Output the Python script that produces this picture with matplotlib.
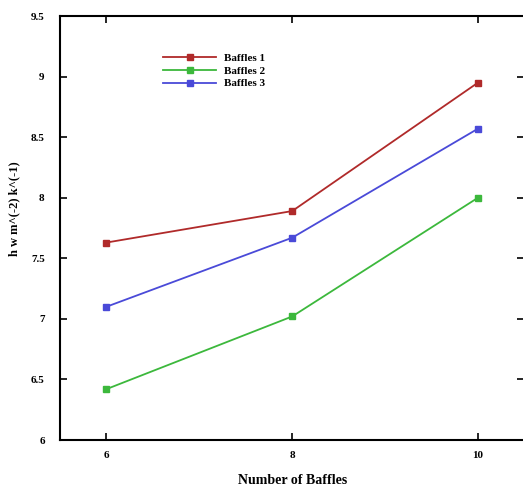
import matplotlib.pyplot as plt

# 데이터
baffles = [6, 8, 10]
b1 = [7.63, 7.89, 8.95]
b2 = [6.42, 7.02, 8.00]
b3 = [7.10, 7.67, 8.57]
yticks = [6, 6.5, 7, 7.5, 8, 8.5, 9, 9.5]
ytick_labels = ['6', '6.5', '7', '7.5', '8', '8.5', '9', '9.5']

plt.rcParams['font.family'] = ['Liberation Serif', 'DejaVu Serif']
plt.rcParams['font.weight'] = 'bold'

fig = plt.figure(figsize=(5.23, 4.87), dpi=100)
ax = fig.add_axes([0.1147, 0.0965, 0.888, 0.8706])

ax.plot(baffles, b1, color='#b02a2a', marker='s', markersize=4, lw=1.3, label='Baffles 1')
ax.plot(baffles, b2, color='#3cb83c', marker='s', markersize=4, lw=1.3, label='Baffles 2')
ax.plot(baffles, b3, color='#4a4ad8', marker='s', markersize=4, lw=1.3, label='Baffles 3')

ax.set_xlim(5.5, 10.5)
ax.set_ylim(6, 9.5)
ax.set_xticks(baffles)
ax.set_yticks(yticks)
ax.set_yticklabels(ytick_labels)
ax.tick_params(direction='in', top=True, right=True, length=5, width=1.2, labelsize=8)
ax.tick_params(axis='x', pad=8)
ax.tick_params(axis='y', pad=11)
for s in ax.spines.values():
    s.set_linewidth(1.5)

ax.set_xlabel('Number of Baffles', fontsize=10, fontweight='bold', labelpad=10)
ax.set_ylabel('h w m^(-2) k^(-1)', fontsize=9, fontweight='bold')
ax.yaxis.set_label_coords(-0.085, 0.545)

ax.legend(loc='upper left', bbox_to_anchor=(0.2, 0.935), frameon=False,
          handlelength=4.8, handletextpad=0.7, labelspacing=0.25,
          prop={'weight': 'bold', 'size': 8})

fig.savefig('out.png', dpi=100)
